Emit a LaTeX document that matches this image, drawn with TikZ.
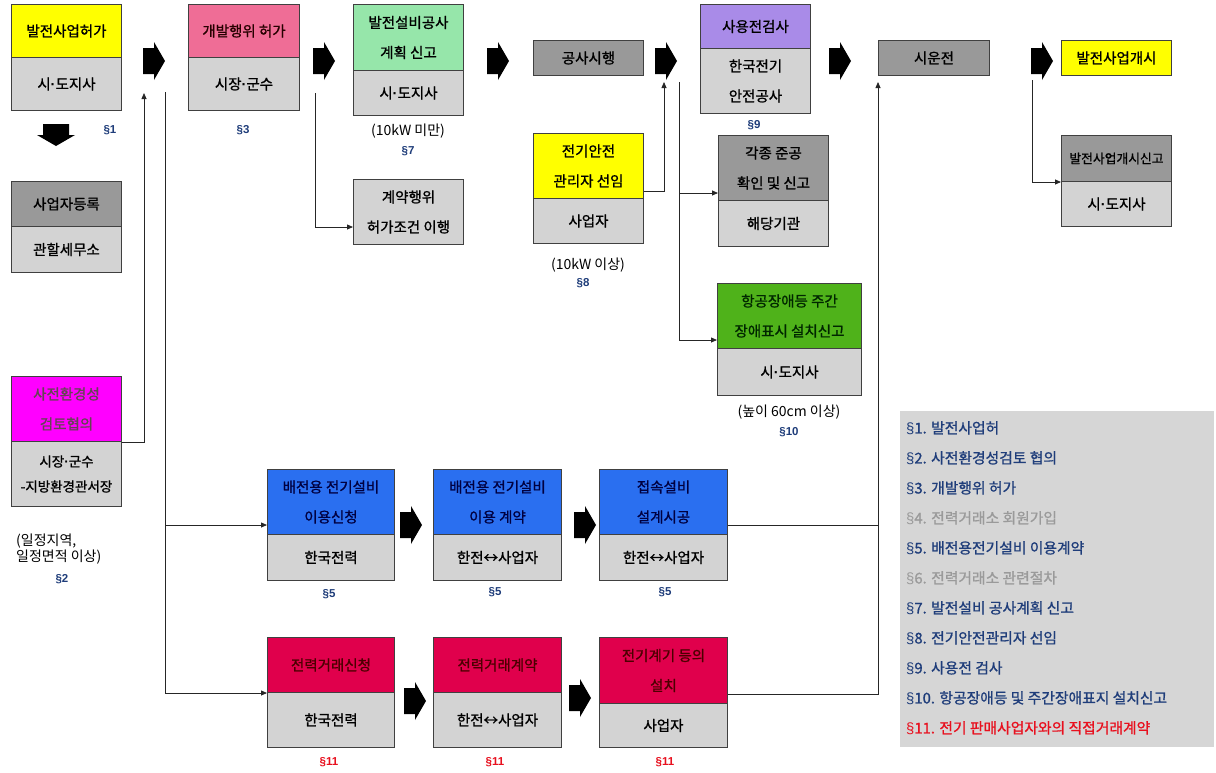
\documentclass[tikz,border=0pt]{standalone}
\usepackage{fontspec}
\setmainfont{Noto Sans CJK KR}
\newfontfamily\medfont{Noto Sans CJK KR}[FakeBold=1]
\newfontfamily\secfont{Liberation Sans}
\newcommand\secsign{{\secfont §}}
\newcommand\mdot{{\secfont\bfseries ·}}
\usetikzlibrary{arrows.meta,calc}

\definecolor{cYellow}{HTML}{FFFF00}
\definecolor{cPink}{HTML}{EF6D96}
\definecolor{cMint}{HTML}{96E6AA}
\definecolor{cDark}{HTML}{999999}
\definecolor{cLight}{HTML}{D3D3D3}
\definecolor{cPurple}{HTML}{A98BE8}
\definecolor{cMag}{HTML}{FF00FF}
\definecolor{cBlue}{HTML}{2A6FF0}
\definecolor{cRed}{HTML}{E0004C}
\definecolor{cGreen}{HTML}{4FB21A}
\definecolor{cLegend}{HTML}{D6D6D6}
\definecolor{cNavy}{HTML}{1F3D7A}
\definecolor{cBorder}{HTML}{404040}
\definecolor{cGrayText}{HTML}{9A9A9A}
\definecolor{cRedText}{HTML}{E8101E}

\begin{document}
\begin{tikzpicture}[x=1pt,y=-1pt,
  box/.style={draw=cBorder, line width=1pt, anchor=north west, inner sep=0pt, align=center,
              font=\medfont\fontsize{14.5}{30}\selectfont},
  sec/.style={font=\secfont\bfseries\fontsize{11.5}{13}\selectfont, text=cNavy, inner sep=0pt},
  secred/.style={font=\secfont\bfseries\fontsize{11.5}{13}\selectfont, text=cRedText, inner sep=0pt},
  note/.style={font=\fontsize{14}{17}\selectfont, inner sep=0pt},
  conn/.style={draw=black!85, line width=0.8pt},
  arr/.style={conn, -{Triangle[length=6pt,width=5pt]}},
  barrow/.pic={\fill[black] (-11,-13) -- (0,-13) -- (0,-19) -- (11,0) -- (0,19) -- (0,13) -- (-11,13) -- cycle;}
]
\fill[white] (0,0) rectangle (1216,772);
\useasboundingbox (0,0) rectangle (1216,772);

% ---- column 1
\node[box, fill=cYellow, minimum width=110, minimum height=53] (b1t) at (11,4) {발전사업허가};
\node[box, fill=cLight, minimum width=110, minimum height=53] (b1b) at (11,57) {시\mdot 도지사};
\node[box, fill=cDark, minimum width=110, minimum height=45] (b2t) at (11,181) {사업자등록};
\node[box, fill=cLight, minimum width=110, minimum height=46] (b2b) at (11,226) {관할세무소};
\node[box, fill=cMag, text=black!70!magenta, minimum width=110, minimum height=65] (b3t) at (11,376) {사전환경성\\검토협의};
\node[box, fill=cLight, minimum width=110, minimum height=65, font=\medfont\fontsize{13.5}{25}\selectfont] (b3b) at (11,441) {시장\mdot 군수\\-지방환경관서장};

% ---- column 2
\node[box, fill=cPink, text=black!85!red, minimum width=111, minimum height=53] (b4t) at (188,4) {개발행위 허가};
\node[box, fill=cLight, minimum width=111, minimum height=53] (b4b) at (188,57) {시장\mdot 군수};

% ---- column 3
\node[box, fill=cMint, minimum width=110, minimum height=66] (b5t) at (353,4) {발전설비공사\\계획 신고};
\node[box, fill=cLight, minimum width=110, minimum height=45] (b5b) at (353,70) {시\mdot 도지사};
\node[box, fill=cLight, minimum width=110, minimum height=65] (b6) at (353,179) {계약행위\\허가조건 이행};

% ---- column 4
\node[box, fill=cDark, minimum width=110, minimum height=35] (b7) at (533,40) {공사시행};
\node[box, fill=cYellow, minimum width=110, minimum height=65] (b8t) at (533,133) {전기안전\\관리자 선임};
\node[box, fill=cLight, minimum width=110, minimum height=45] (b8b) at (533,198) {사업자};

% ---- column 5
\node[box, fill=cPurple, minimum width=110, minimum height=44] (b9t) at (700,4) {사용전검사};
\node[box, fill=cLight, minimum width=110, minimum height=65] (b9b) at (700,48) {한국전기\\안전공사};
\node[box, fill=cDark, minimum width=110, minimum height=65] (b10t) at (718,135) {각종 준공\\확인 및 신고};
\node[box, fill=cLight, minimum width=110, minimum height=46] (b10b) at (718,200) {해당기관};
\node[box, fill=cGreen, text=black!85!green, minimum width=144, minimum height=65] (b11t) at (717,283) {항공장애등 주간\\장애표시 설치신고};
\node[box, fill=cLight, minimum width=144, minimum height=47] (b11b) at (717,348) {시\mdot 도지사};

% ---- columns 6, 7
\node[box, fill=cDark, minimum width=111, minimum height=35] (b12) at (878,40) {시운전};
\node[box, fill=cYellow, minimum width=110, minimum height=35] (b13) at (1061,40) {발전사업개시};
\node[box, fill=cDark, minimum width=110, minimum height=46, font=\medfont\fontsize{12.8}{30}\selectfont] (b14t) at (1061,135) {발전사업개시신고};
\node[box, fill=cLight, minimum width=110, minimum height=45] (b14b) at (1061,181) {시\mdot 도지사};

% ---- blue row
\node[box, fill=cBlue, text=black!75!blue, minimum width=127, minimum height=65] (b15t) at (267,469) {배전용 전기설비\\이용신청};
\node[box, fill=cLight, minimum width=127, minimum height=46] (b15b) at (267,534) {한국전력};
\node[box, fill=cBlue, text=black!75!blue, minimum width=128, minimum height=65] (b16t) at (433,469) {배전용 전기설비\\이용 계약};
\node[box, fill=cLight, minimum width=128, minimum height=46] (b16b) at (433,534) {한전↔사업자};
\node[box, fill=cBlue, text=black!75!blue, minimum width=128, minimum height=65] (b17t) at (599,469) {접속설비\\설계시공};
\node[box, fill=cLight, minimum width=128, minimum height=46] (b17b) at (599,534) {한전↔사업자};

% ---- red row
\node[box, fill=cRed, text=black!70!red, minimum width=127, minimum height=55] (b18t) at (267,637) {전력거래신청};
\node[box, fill=cLight, minimum width=127, minimum height=55] (b18b) at (267,692) {한국전력};
\node[box, fill=cRed, text=black!70!red, minimum width=128, minimum height=55] (b19t) at (433,637) {전력거래계약};
\node[box, fill=cLight, minimum width=128, minimum height=55] (b19b) at (433,692) {한전↔사업자};
\node[box, fill=cRed, text=black!70!red, minimum width=128, minimum height=66] (b20t) at (599,637) {전기계기 등의\\설치};
\node[box, fill=cLight, minimum width=128, minimum height=44] (b20b) at (599,703) {사업자};

% ---- block arrows
\pic (a1) at (154,61) {barrow};
\pic (a2) at (324,61) {barrow};
\pic (a3) at (498,61) {barrow};
\pic (a4) at (666,61) {barrow};
\pic (a5) at (840,61) {barrow};
\pic (a6) at (1042,61) {barrow};
\pic[rotate=-90] (ad) at (56,135) {barrow};
\pic (a7) at (411,525) {barrow};
\pic (a8) at (585,525) {barrow};
\pic (a9) at (415,701) {barrow};
\pic (a10) at (580,698) {barrow};

% ---- labels
\node[sec] (s1) at (110,130) {§1};
\node[sec] (s3) at (243,130) {§3};
\node[note] (n7) at (408,131) {(10kW 미만)};
\node[sec] (s7) at (408,151) {§7};
\node[note] (n8) at (588,265) {(10kW 이상)};
\node[sec] (s8) at (583,283) {§8};
\node[sec] (s9) at (754,125) {§9};
\node[note] (n10) at (789,412) {(높이 60cm 이상)};
\node[sec] (s10) at (789,432) {§10};
\node[note, anchor=north west, align=left, font=\fontsize{14}{16}\selectfont] (n2) at (16,534) {(일정지역,\\일정면적 이상)};
\node[sec] (s2) at (62,579) {§2};
\node[sec] (s5a) at (329,594) {§5};
\node[sec] (s5b) at (495,592) {§5};
\node[sec] (s5c) at (665,592) {§5};
\node[secred] (s11a) at (329,762) {§11};
\node[secred] (s11b) at (495,762) {§11};
\node[secred] (s11c) at (665,762) {§11};

% ---- connectors
\coordinate (p1) at (144,93);
\draw[arr] (b3t.south east) -| (p1);

\coordinate (p2) at (165,92);
\draw[arr] (p2) |- (b18t.south west);
\coordinate (b15in) at ($(b15t.south west)+(0,-10)$);
\draw[arr] (p2 |- b15in) -- (b15in);

\coordinate (p3) at (315,93);
\coordinate (b6in) at ($(b6.west)+(0,15)$);
\draw[arr] (p3) |- (b6in);

\coordinate (b8out) at ($(b8t.south east)+(0,-8)$);
\coordinate (p4) at (664,82);
\draw[arr] (b8out) -| (p4);

\coordinate (p5) at (679,82);
\coordinate (b11in) at ($(b11t.south west)+(0,-9)$);
\coordinate (b10in) at ($(b10t.south west)+(0,-8)$);
\draw[arr] (p5) |- (b11in);
\draw[arr] (p5 |- b10in) -- (b10in);

\coordinate (p6) at (878,82);
\coordinate (b17out) at ($(b17t.south east)+(0,-10)$);
\coordinate (b20out) at ($(b20t.south east)+(0,-10)$);
\draw[conn] (b17out) -- (p6 |- b17out);
\draw[arr] (b20out) -| (p6);

\coordinate (p7) at (1032,80);
\draw[arr] (p7) |- (b14t.south west);

% ---- legend
\node[anchor=north west, fill=cLegend, minimum width=314, minimum height=336, inner sep=0pt] (legend) at (900,411) {};
\node[anchor=north west, align=left, inner sep=0pt, font=\medfont\fontsize{14.8}{30}\selectfont] (legtext) at (906,421) {%
\color{cNavy}\secsign1. 발전사업허\\
\color{cNavy}\secsign2. 사전환경성검토 협의\\
\color{cNavy}\secsign3. 개발행위 허가\\
\color{cGrayText}\secsign4. 전력거래소 회원가입\\
\color{cNavy}\secsign5. 배전용전기설비 이용계약\\
\color{cGrayText}\secsign6. 전력거래소 관련절차\\
\color{cNavy}\secsign7. 발전설비 공사계획 신고\\
\color{cNavy}\secsign8. 전기안전관리자 선임\\
\color{cNavy}\secsign9. 사용전 검사\\
\color{cNavy}\secsign10. 항공장애등 및 주간장애표지 설치신고\\
\color{cRedText}\secsign11. 전기 판매사업자와의 직접거래계약};
\end{tikzpicture}
\end{document}
